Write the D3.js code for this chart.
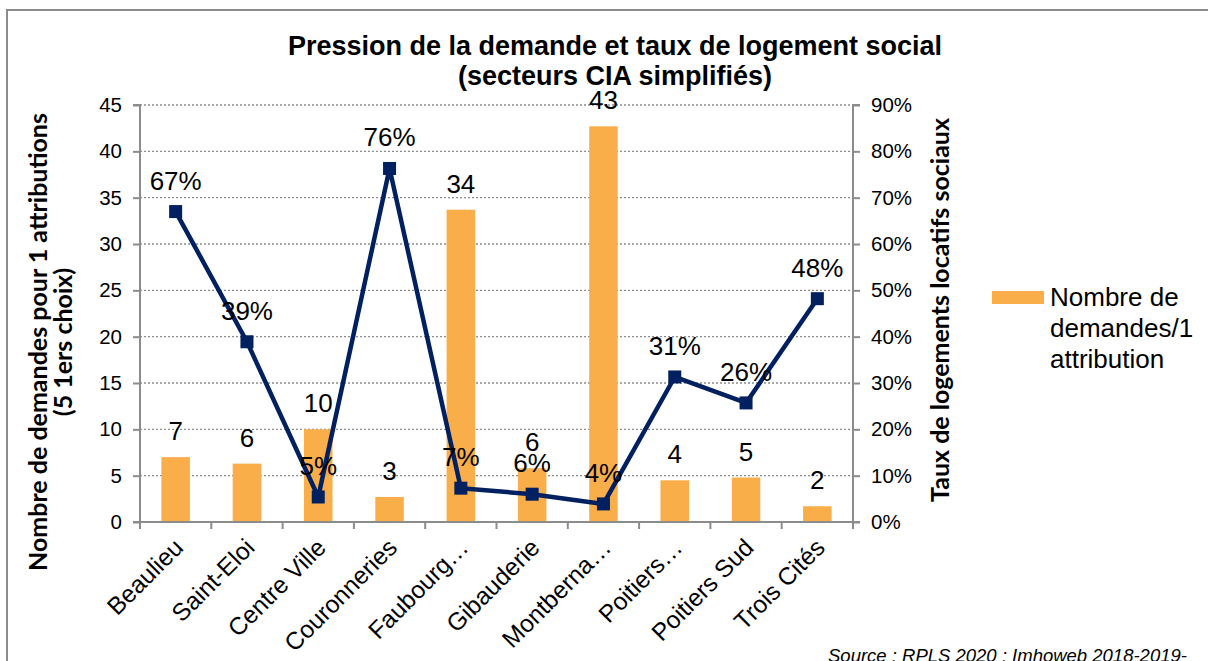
<!DOCTYPE html>
<html>
<head>
<meta charset="utf-8">
<title>Pression de la demande</title>
<script src="https://cdnjs.cloudflare.com/ajax/libs/d3/7.8.5/d3.min.js"></script>
<style>
  body { margin: 0; background: #fff; }
  text { font-family: "Liberation Sans", Arial, sans-serif; fill: #000; }
</style>
</head>
<body>
<svg id="chart" width="1208" height="661"></svg>
<script>
// donnees
var secteurs = ["Beaulieu", "Saint-Eloi", "Centre Ville", "Couronneries", "Faubourg\u2026",
                "Gibauderie", "Montberna\u2026", "Poitiers\u2026", "Poitiers Sud", "Trois Cités"];
var demandes = [7.0, 6.3, 10.0, 2.7, 33.7, 5.8, 42.7, 4.5, 4.8, 1.7];
var demandesLabels = ["7", "6", "10", "3", "34", "6", "43", "4", "5", "2"];
var tauxLS = [0.67, 0.389, 0.054, 0.763, 0.073, 0.06, 0.039, 0.313, 0.257, 0.482];
var ticksGauche = [0, 5, 10, 15, 20, 25, 30, 35, 40, 45];
var ticksDroite = [0, 0.1, 0.2, 0.3, 0.4, 0.5, 0.6, 0.7, 0.8, 0.9];

var svg = d3.select("#chart");
var pLeft = 140, pRight = 853, pTop = 105, pBottom = 522;
var gris = "#8c8c8c", orange = "#F9AE4A", bleu = "#002060";

var x = d3.scaleBand().domain(secteurs).range([pLeft, pRight]).paddingInner(0.6).paddingOuter(0.3);
var xc = function(d) { return x(d) + x.bandwidth() / 2; };
var y = d3.scaleLinear().domain([0, 45]).range([pBottom, pTop]);
var y2 = d3.scaleLinear().domain([0, 0.9]).range([pBottom, pTop]);

// cadre
svg.append("path")
    .attr("d", "M7,661 L7,10 L1208,10")
    .attr("fill", "none").attr("stroke", gris).attr("stroke-width", 2);

// grille
svg.append("g").selectAll("line").data(ticksGauche.slice(1)).enter().append("line")
    .attr("x1", pLeft).attr("x2", pRight)
    .attr("y1", function(d) { return y(d); }).attr("y2", function(d) { return y(d); })
    .attr("stroke", gris).attr("stroke-dasharray", "2,2").attr("stroke-width", 1.3);

// barres
svg.append("g").selectAll("rect").data(demandes).enter().append("rect")
    .attr("x", function(d, i) { return x(secteurs[i]); })
    .attr("width", x.bandwidth())
    .attr("y", function(d) { return y(d); })
    .attr("height", function(d) { return pBottom - y(d); })
    .attr("fill", orange);

// axes
var axG = svg.append("g").attr("transform", "translate(" + pLeft + ",0)")
    .call(d3.axisLeft(y).tickValues(ticksGauche).tickSize(7).tickPadding(11));
var axD = svg.append("g").attr("transform", "translate(" + pRight + ",0)")
    .call(d3.axisRight(y2).tickValues(ticksDroite).tickSize(7).tickPadding(11).tickFormat(d3.format(".0%")));
[axG, axD].forEach(function(a) {
  a.select(".domain").attr("stroke", gris).attr("stroke-width", 2);
  a.selectAll(".tick line").attr("stroke", gris).attr("stroke-width", 2);
  a.selectAll(".tick text").style("font-size", "20.5px").style("font-family", "Liberation Sans, Arial, sans-serif");
});
axG.select(".domain").attr("d", "M-7," + pTop + "H0V" + pBottom + "H-7");
axD.select(".domain").attr("d", "M7," + pTop + "H0V" + pBottom + "H7");

// axe x
var axX = svg.append("g").attr("transform", "translate(0," + pBottom + ")");
axX.append("line").attr("x1", pLeft - 7).attr("x2", pRight + 7)
    .attr("stroke", gris).attr("stroke-width", 2);
var step = x.step();
axX.selectAll(".tk").data(d3.range(secteurs.length + 1)).enter().append("line")
    .attr("x1", function(i) { return pLeft + i * step; }).attr("x2", function(i) { return pLeft + i * step; })
    .attr("y1", 0).attr("y2", 7).attr("stroke", gris).attr("stroke-width", 2);
axX.selectAll("text").data(secteurs).enter().append("text")
    .attr("transform", function(d) { return "translate(" + (xc(d) + 3) + ",21) rotate(-45)"; })
    .attr("text-anchor", "end").attr("dy", "0.35em")
    .style("font-size", "24.5px").text(function(d) { return d; });

// ligne
var line = d3.line().x(function(d, i) { return xc(secteurs[i]); }).y(function(d) { return y2(d); });
svg.append("path").datum(tauxLS).attr("d", line)
    .attr("fill", "none").attr("stroke", bleu).attr("stroke-width", 4.5).attr("stroke-linejoin", "round");
svg.append("g").selectAll("rect").data(tauxLS).enter().append("rect")
    .attr("x", function(d, i) { return xc(secteurs[i]) - 6.5; })
    .attr("y", function(d) { return y2(d) - 6.5; })
    .attr("width", 13).attr("height", 13).attr("fill", bleu);

// etiquettes
svg.append("g").selectAll("text").data(demandes).enter().append("text")
    .attr("x", function(d, i) { return xc(secteurs[i]); })
    .attr("y", function(d) { return y(d) - 17; })
    .attr("text-anchor", "middle").style("font-size", "26px")
    .text(function(d, i) { return demandesLabels[i]; });
svg.append("g").selectAll("text").data(tauxLS).enter().append("text")
    .attr("x", function(d, i) { return xc(secteurs[i]); })
    .attr("y", function(d) { return y2(d) - 22; })
    .attr("text-anchor", "middle").style("font-size", "26px")
    .text(function(d) { return Math.round(d * 100) + "%"; });

// titre
var titre = svg.append("text").attr("text-anchor", "middle")
    .style("font-size", "27px").style("font-weight", "bold");
titre.append("tspan").attr("x", 615).attr("y", 55).text("Pression de la demande et taux de logement social");
titre.append("tspan").attr("x", 615).attr("y", 85).text("(secteurs CIA simplifiés)");

// titres des axes
var tg = svg.append("text").attr("transform", "translate(47,342) rotate(-90)")
    .attr("text-anchor", "middle").style("font-size", "25px").style("font-weight", "bold")
    .style("font-family", "Lato, 'Liberation Sans', sans-serif");
tg.append("tspan").attr("x", 0).attr("y", 0).text("Nombre de demandes pour 1 attributions");
tg.append("tspan").attr("x", 0).attr("y", 25).text("(5 1ers choix)");
svg.append("text").attr("transform", "translate(949,310) rotate(-90)")
    .attr("text-anchor", "middle").style("font-size", "25px").style("font-weight", "bold")
    .style("font-family", "Lato, 'Liberation Sans', sans-serif")
    .text("Taux de logements locatifs sociaux");

// legende
svg.append("rect").attr("x", 992).attr("y", 291).attr("width", 52).attr("height", 13).attr("fill", orange);
var lg = svg.append("text").style("font-size", "26px");
["Nombre de", "demandes/1", "attribution"].forEach(function(t, i) {
  lg.append("tspan").attr("x", 1050).attr("y", 306 + i * 31).text(t);
});

// source
svg.append("text").attr("x", 828).attr("y", 662)
    .style("font-size", "18.5px").style("font-style", "italic")
    .text("Source : RPLS 2020 ; Imhoweb 2018-2019-");
</script>
</body>
</html>
